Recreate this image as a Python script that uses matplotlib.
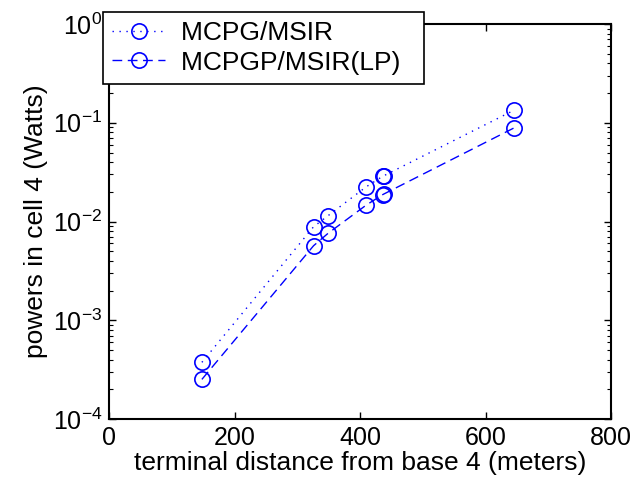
import matplotlib
matplotlib.use("Agg")
import matplotlib.pyplot as plt

plt.rcParams['font.family'] = ['Liberation Sans', 'DejaVu Sans']
plt.rcParams['mathtext.fontset'] = 'custom'
plt.rcParams['mathtext.rm'] = 'Liberation Sans'
plt.rcParams['font.size'] = 18

# data
dist = [148, 326, 349, 410, 436, 438, 646]
mcpg = [3.75e-4, 8.85e-3, 1.145e-2, 2.25e-2, 2.87e-2, 2.91e-2, 1.346e-1]
mcpgp = [2.52e-4, 5.69e-3, 7.59e-3, 1.469e-2, 1.87e-2, 1.90e-2, 8.91e-2]

labels = ['MCPG/MSIR', 'MCPGP/MSIR(LP)']
xticks = [0, 200, 400, 600, 800]

fig = plt.figure(figsize=(6.36, 4.91), dpi=100)
ax = fig.add_axes([0.1714, 0.1466, 0.7893, 0.8044])

ax.semilogy(dist, mcpg, linestyle=(0, (1, 4)), color='blue', lw=1,
            marker='o', ms=11, mfc='none', mec='blue', mew=1.2, label=labels[0])
ax.semilogy(dist, mcpgp, linestyle=(0, (7, 4)), color='blue', lw=1,
            marker='o', ms=11, mfc='none', mec='blue', mew=1.2, label=labels[1])

ax.set_xlim(0, 800)
ax.set_ylim(1e-4, 1e0)
ax.set_xticks(xticks)
ax.set_xlabel('terminal distance from base 4 (meters)', fontsize=19, labelpad=1)
ax.set_ylabel('powers in cell 4 (Watts)', fontsize=19, labelpad=3)

ax.tick_params(which='both', direction='in', top=True, right=True)
ax.tick_params(which='major', length=5, width=1, pad=5)
ax.tick_params(which='minor', length=3, width=0.8)
for s in ax.spines.values():
    s.set_linewidth(1.5)

# trailing spaces give the extra right-hand padding of the original legend box
handles, _ = ax.get_legend_handles_labels()
leg = ax.legend(handles, [lab + '  ' for lab in labels],
                loc='upper left', bbox_to_anchor=(103 / 636, 1 - 12 / 491),
                bbox_transform=fig.transFigure, borderaxespad=0,
                fancybox=False, framealpha=1, edgecolor='black',
                handlelength=2.0, handletextpad=0.6, labelspacing=0.2,
                borderpad=0.35, fontsize=19)
leg.get_frame().set_linewidth(1.2)

fig.savefig('out.png', dpi=100)
